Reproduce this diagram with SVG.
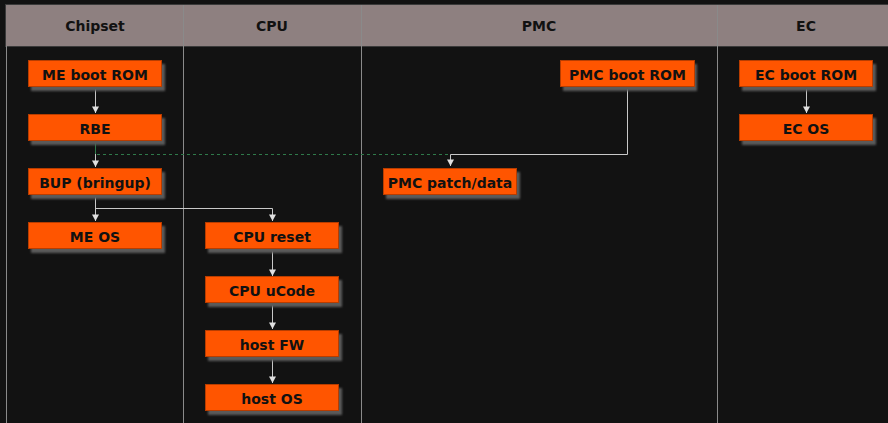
<svg xmlns="http://www.w3.org/2000/svg" width="888" height="423" viewBox="0 0 888 423">
<defs>
<filter id="sh" x="-10%" y="-20%" width="130%" height="160%">
<feGaussianBlur stdDeviation="1.3"/>
</filter>
<marker id="arrd" markerWidth="8" markerHeight="8" refX="4" refY="7" orient="0" markerUnits="userSpaceOnUse" viewBox="0 0 8 8">
<path d="M0.5,0.5 L7.5,0.5 L4,7 Z" fill="#e0e0e0"/>
</marker>
</defs>
<style>
.hdr{font-family:"DejaVu Sans",sans-serif;font-weight:bold;font-size:14px;fill:#111;text-anchor:middle}
.lbl{font-family:"DejaVu Sans",sans-serif;font-weight:bold;font-size:14px;fill:#111;text-anchor:middle}
.box{fill:#ff5500;stroke:#b83d00;stroke-width:1}
.shd{fill:#5a5a5a;filter:url(#sh)}
.lane{stroke:#8a8a8a;stroke-width:1}
.c{fill:none;stroke:#c8c8c8;stroke-width:1}
.d{fill:none;stroke:#2f7a4a;stroke-width:1.2;stroke-dasharray:3,3}
</style>
<rect x="0" y="0" width="888" height="423" fill="#121212"/>
<g id="lanes">
<rect x="5.5" y="4.5" width="890" height="42" fill="#8e8080" stroke="#3a3a3a" stroke-width="1"/>
<line class="lane" x1="6.5" y1="46" x2="6.5" y2="423"/>
<line class="lane" x1="183.5" y1="5" x2="183.5" y2="423"/>
<line class="lane" x1="361.5" y1="5" x2="361.5" y2="423"/>
<line class="lane" x1="717.5" y1="5" x2="717.5" y2="423"/>
<text class="hdr" x="95" y="31">Chipset</text>
<text class="hdr" x="272" y="31">CPU</text>
<text class="hdr" x="539" y="31">PMC</text>
<text class="hdr" x="806" y="31">EC</text>
</g>
<g id="connectors">
<line class="c" x1="95.5" y1="87" x2="95.5" y2="113" marker-end="url(#arrd)"/>
<line class="c" x1="95.5" y1="154" x2="95.5" y2="167" marker-end="url(#arrd)"/>
<line x1="95.5" y1="141" x2="95.5" y2="154" stroke="#2f7a4a" stroke-width="1"/>
<path class="d" d="M97,154.5 H449"/>
<path class="c" d="M627.5,87 V154.5 H450.5 V166" marker-end="url(#arrd)"/>
<line class="c" x1="95.5" y1="195" x2="95.5" y2="221" marker-end="url(#arrd)"/>
<path class="c" d="M95.5,208.5 H272.5 V221" marker-end="url(#arrd)"/>
<line class="c" x1="272.5" y1="249" x2="272.5" y2="276" marker-end="url(#arrd)"/>
<line class="c" x1="272.5" y1="303" x2="272.5" y2="329" marker-end="url(#arrd)"/>
<line class="c" x1="272.5" y1="357" x2="272.5" y2="383" marker-end="url(#arrd)"/>
<line class="c" x1="806.5" y1="87" x2="806.5" y2="113" marker-end="url(#arrd)"/>
</g>
<g id="me-boot-rom"><rect class="shd" x="31" y="64" width="134" height="27"/><rect class="box" x="28.5" y="60.5" width="133" height="26"/><text class="lbl" x="95" y="80">ME boot ROM</text></g>
<g id="rbe"><rect class="shd" x="31" y="118" width="134" height="27"/><rect class="box" x="28.5" y="114.5" width="133" height="26"/><text class="lbl" x="95" y="134">RBE</text></g>
<g id="bup"><rect class="shd" x="31" y="172" width="134" height="27"/><rect class="box" x="28.5" y="168.5" width="133" height="26"/><text class="lbl" x="95" y="188">BUP (bringup)</text></g>
<g id="me-os"><rect class="shd" x="31" y="226" width="134" height="27"/><rect class="box" x="28.5" y="222.5" width="133" height="26"/><text class="lbl" x="95" y="242">ME OS</text></g>
<g id="cpu-reset"><rect class="shd" x="208" y="226" width="134" height="27"/><rect class="box" x="205.5" y="222.5" width="133" height="26"/><text class="lbl" x="272" y="242">CPU reset</text></g>
<g id="cpu-ucode"><rect class="shd" x="208" y="280" width="134" height="27"/><rect class="box" x="205.5" y="276.5" width="133" height="26"/><text class="lbl" x="272" y="296">CPU uCode</text></g>
<g id="host-fw"><rect class="shd" x="208" y="334" width="134" height="27"/><rect class="box" x="205.5" y="330.5" width="133" height="26"/><text class="lbl" x="272" y="350">host FW</text></g>
<g id="host-os"><rect class="shd" x="208" y="388" width="134" height="27"/><rect class="box" x="205.5" y="384.5" width="133" height="26"/><text class="lbl" x="272" y="404">host OS</text></g>
<g id="pmc-boot-rom"><rect class="shd" x="563" y="64" width="134" height="27"/><rect class="box" x="560.5" y="60.5" width="134" height="26"/><text class="lbl" x="627.5" y="80">PMC boot ROM</text></g>
<g id="pmc-patch"><rect class="shd" x="386" y="172" width="134" height="27"/><rect class="box" x="383.5" y="168.5" width="133" height="26"/><text class="lbl" x="450" y="188">PMC patch/data</text></g>
<g id="ec-boot-rom"><rect class="shd" x="742" y="64" width="134" height="27"/><rect class="box" x="739.5" y="60.5" width="133" height="26"/><text class="lbl" x="806" y="80">EC boot ROM</text></g>
<g id="ec-os"><rect class="shd" x="742" y="118" width="134" height="27"/><rect class="box" x="739.5" y="114.5" width="133" height="26"/><text class="lbl" x="806" y="134">EC OS</text></g>
</svg>
